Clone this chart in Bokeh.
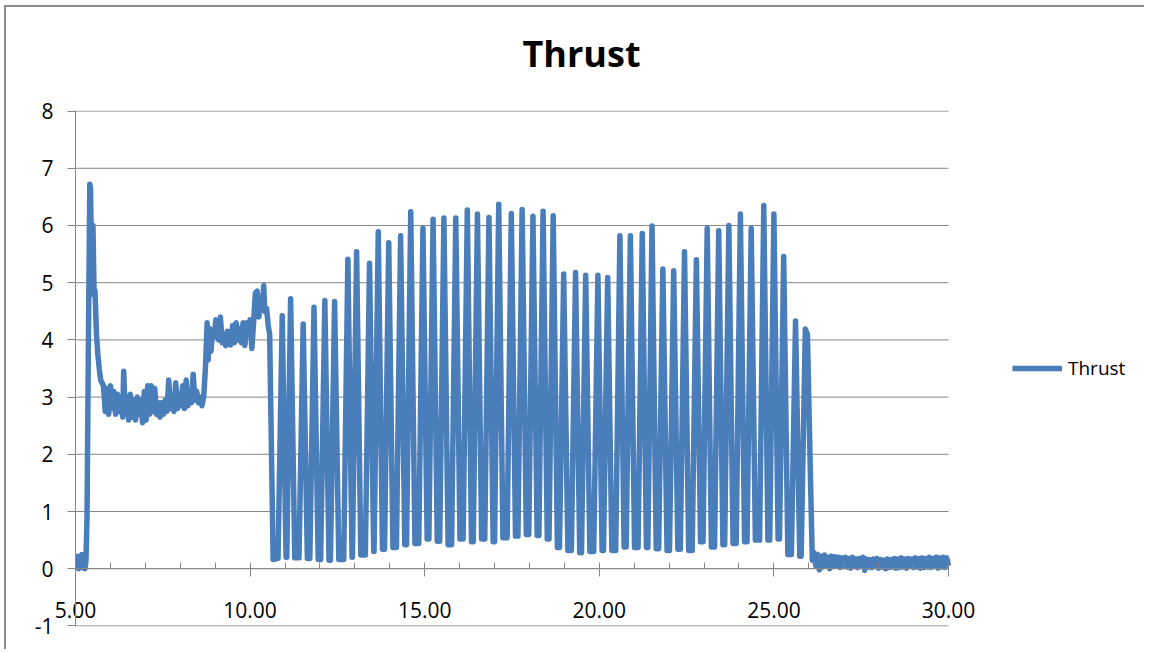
from bokeh.plotting import figure
from bokeh.models import (LinearAxis, Range1d, FixedTicker, Legend, LegendItem,
                          Title, PrintfTickFormatter, ColumnDataSource)
from bokeh.embed import file_html
from bokeh.resources import INLINE

# ---------------- data ----------------
# pre-ignition, ignition spike and decay
t_ignition = [5.00, 5.03, 5.06, 5.09, 5.12, 5.15, 5.18, 5.21, 5.24, 5.27, 5.30,
              5.33, 5.37, 5.41, 5.43, 5.46, 5.48, 5.50, 5.53, 5.56, 5.60, 5.64,
              5.68, 5.72, 5.76]
v_ignition = [0.15, 0.03, 0.22, 0.00, 0.20, 0.04, 0.25, 0.02, 0.22, 0.00, 0.15,
              0.90, 4.00, 6.72, 6.66, 5.30, 4.80, 6.00, 4.90, 4.85, 4.10, 3.75,
              3.50, 3.30, 3.25]

# low plateau (~3)
t_plateau = [5.80, 5.85, 5.90, 5.95, 6.00, 6.05, 6.10, 6.15, 6.20, 6.25, 6.30,
             6.35, 6.38, 6.42, 6.47, 6.52, 6.57, 6.62, 6.67, 6.72, 6.77, 6.82,
             6.87, 6.92, 6.97, 7.02, 7.07, 7.12, 7.17, 7.22, 7.27, 7.32, 7.37,
             7.42, 7.47, 7.52, 7.57, 7.62, 7.67, 7.72, 7.77, 7.82, 7.87, 7.92,
             7.97, 8.02, 8.07, 8.12, 8.17, 8.22, 8.27, 8.32, 8.37, 8.42, 8.47,
             8.52, 8.57, 8.62, 8.67]
v_plateau = [3.20, 2.75, 3.15, 2.70, 3.20, 2.80, 3.10, 2.70, 3.05, 2.75, 3.00,
             2.65, 3.45, 2.80, 3.00, 2.60, 3.05, 2.65, 2.95, 2.60, 3.00, 2.70,
             2.95, 2.55, 3.10, 2.60, 3.20, 2.70, 3.20, 2.75, 3.15, 2.70, 2.90,
             2.65, 2.90, 2.70, 2.95, 2.75, 3.30, 2.80, 3.00, 2.75, 3.25, 2.80,
             3.05, 2.85, 3.20, 2.80, 3.30, 2.85, 3.05, 2.90, 3.40, 2.95, 3.10,
             2.90, 3.00, 2.85, 3.00]

# step up to ~4
t_step = [8.72, 8.77, 8.80, 8.84, 8.88, 8.92, 8.97, 9.02, 9.06, 9.10, 9.15,
          9.20, 9.25, 9.30, 9.35, 9.40, 9.44, 9.50, 9.55, 9.60, 9.65, 9.70,
          9.75, 9.80, 9.85, 9.90, 9.95, 10.00, 10.05, 10.10, 10.15, 10.20,
          10.25, 10.30, 10.35, 10.39, 10.42, 10.47, 10.52, 10.56, 10.66]
v_step = [3.50, 4.30, 3.65, 4.20, 3.80, 4.10, 4.05, 4.35, 4.20, 4.00, 4.40,
          3.95, 4.10, 3.90, 4.15, 4.00, 3.91, 4.25, 3.95, 4.30, 4.00, 4.20,
          3.95, 4.30, 3.90, 4.30, 4.10, 4.35, 3.85, 4.30, 4.82, 4.85,
          4.40, 4.75, 4.60, 4.95, 4.50, 4.55, 4.25, 4.10, 0.16]

# oscillating phase: for each cycle, start of rise, peak, end of fall
t_osc = [10.80, 10.92, 11.03, 11.05, 11.16, 11.28, 11.40, 11.52, 11.64,
         11.71, 11.83, 11.95, 12.02, 12.14, 12.26, 12.30, 12.42, 12.54,
         12.68, 12.80, 12.92, 12.93, 13.05, 13.17, 13.30, 13.42, 13.54,
         13.55, 13.67, 13.79, 13.85, 13.97, 14.09, 14.19, 14.31, 14.43,
         14.48, 14.60, 14.72, 14.83, 14.95, 15.07, 15.12, 15.24, 15.36,
         15.43, 15.55, 15.67, 15.77, 15.89, 16.01, 16.10, 16.22, 16.34,
         16.39, 16.51, 16.63, 16.72, 16.84, 16.96, 17.00, 17.12, 17.24,
         17.36, 17.48, 17.60, 17.67, 17.79, 17.91, 17.98, 18.10, 18.22,
         18.27, 18.39, 18.51, 18.56, 18.68, 18.80, 18.86, 18.98, 19.10,
         19.20, 19.32, 19.44, 19.49, 19.61, 19.73, 19.84, 19.96, 20.08,
         20.12, 20.24, 20.36, 20.47, 20.59, 20.71, 20.77, 20.89, 21.01,
         21.11, 21.23, 21.35, 21.39, 21.51, 21.63, 21.70, 21.82, 21.94,
         22.01, 22.13, 22.25, 22.32, 22.44, 22.56, 22.66, 22.78, 22.90,
         22.97, 23.09, 23.21, 23.30, 23.42, 23.54, 23.59, 23.71, 23.83,
         23.92, 24.04, 24.16, 24.23, 24.35, 24.47, 24.59, 24.71, 24.83,
         24.88, 25.00, 25.12, 25.16, 25.28, 25.40, 25.50, 25.62, 25.74,
         25.78, 25.90, 25.96, 26.05, 26.10]
v_osc = [0.18, 4.42, 0.20, 0.20, 4.72, 0.19, 0.19, 4.28, 0.18,
         0.18, 4.57, 0.16, 0.16, 4.69, 0.15, 0.15, 4.67, 0.16,
         0.16, 5.41, 0.20, 0.20, 5.54, 0.24, 0.24, 5.34, 0.30,
         0.30, 5.89, 0.34, 0.34, 5.70, 0.37, 0.37, 5.82, 0.42,
         0.42, 6.24, 0.44, 0.44, 5.95, 0.52, 0.52, 6.11, 0.48,
         0.48, 6.13, 0.42, 0.42, 6.13, 0.52, 0.52, 6.27, 0.47,
         0.47, 6.20, 0.52, 0.52, 6.14, 0.47, 0.47, 6.37, 0.54,
         0.54, 6.21, 0.57, 0.57, 6.28, 0.60, 0.60, 6.16, 0.58,
         0.58, 6.25, 0.52, 0.52, 6.17, 0.37, 0.37, 5.15, 0.32,
         0.32, 5.18, 0.28, 0.28, 5.13, 0.30, 0.30, 5.13, 0.32,
         0.32, 5.09, 0.32, 0.32, 5.82, 0.38, 0.38, 5.82, 0.37,
         0.37, 5.86, 0.37, 0.37, 5.99, 0.35, 0.35, 5.24, 0.32,
         0.32, 5.21, 0.34, 0.34, 5.54, 0.32, 0.32, 5.40, 0.47,
         0.47, 5.95, 0.38, 0.38, 5.91, 0.42, 0.42, 6.00, 0.44,
         0.44, 6.20, 0.47, 0.47, 5.95, 0.50, 0.50, 6.35, 0.50,
         0.50, 6.20, 0.52, 0.52, 5.46, 0.25, 0.25, 4.33, 0.22,
         0.22, 4.19, 4.10, 1.50, 0.15]

# tail-off noise after burn-out
t_tail = [26.15, 26.20, 26.25, 26.30, 26.35, 26.40, 26.45, 26.50, 26.55, 26.60,
          26.65, 26.70, 26.75, 26.80, 26.85, 26.90, 26.95, 27.00, 27.05, 27.10,
          27.15, 27.20, 27.25, 27.30, 27.35, 27.40, 27.45, 27.50, 27.55, 27.60,
          27.65, 27.70, 27.75, 27.80, 27.85, 27.90, 27.95, 28.00, 28.05, 28.10,
          28.15, 28.20, 28.25, 28.30, 28.35, 28.40, 28.45, 28.50, 28.55, 28.60,
          28.65, 28.70, 28.75, 28.80, 28.85, 28.90, 28.95, 29.00, 29.05, 29.10,
          29.15, 29.20, 29.25, 29.30, 29.35, 29.40, 29.45, 29.50, 29.55, 29.60,
          29.65, 29.70, 29.75, 29.80, 29.85, 29.90, 29.95, 30.00]
v_tail = [0.28, 0.05, 0.25, -0.02, 0.22, 0.03, 0.24, 0.06, 0.20, 0.00,
          0.22, 0.04, 0.21, 0.05, 0.20, 0.02, 0.19, 0.04, 0.20, 0.03,
          0.18, 0.01, 0.20, 0.04, 0.17, 0.02, 0.18, 0.05, 0.20, -0.03,
          0.17, 0.03, 0.16, 0.02, 0.17, 0.04, 0.18, 0.01, 0.16, 0.03,
          0.15, 0.00, 0.17, 0.02, 0.16, 0.03, 0.18, 0.01, 0.17, 0.02,
          0.19, 0.03, 0.17, 0.01, 0.18, 0.04, 0.17, 0.02, 0.19, 0.03,
          0.18, 0.01, 0.19, 0.02, 0.18, 0.03, 0.20, 0.02, 0.18, 0.04,
          0.20, 0.01, 0.19, 0.03, 0.20, 0.02, 0.19, 0.05]

x_major_ticks = [5, 10, 15, 20, 25, 30]
x_minor_ticks = [6, 7, 8, 9, 11, 12, 13, 14, 16, 17, 18, 19,
                 21, 22, 23, 24, 26, 27, 28, 29]
y_ticks = [-1, 0, 1, 2, 3, 4, 5, 6, 7, 8]
series_name = "Thrust"
chart_title = "Thrust"

# ---------------- layout constants ----------------
W, H = 1140, 644
FRAME_L = 69          # canvas x of t = 5
X30_PX = 942          # canvas x of t = 30
X0, X1 = x_major_ticks[0], x_major_ticks[-1]
# the plot frame runs on to the right edge (legend lives there); the data axis stops at 30
x_end = X1 + (W - X30_PX) * (X1 - X0) / (X30_PX - FRAME_L)

time = t_ignition + t_plateau + t_step + t_osc + t_tail
thrust = v_ignition + v_plateau + v_step + v_osc + v_tail
src = ColumnDataSource(data=dict(t=time, thrust=thrust))

GRID = "#878787"
FONT = "Open Sans"

p = figure(width=W, height=H, x_range=Range1d(X0, x_end),
           y_range=Range1d(-1.01, 8.01),
           output_backend="svg", toolbar_location=None,
           x_axis_location=None, y_axis_location="left",
           min_border_left=FRAME_L, min_border_right=0,
           min_border_top=103, min_border_bottom=25)
p.outline_line_color = None
p.background_fill_color = "white"
p.border_fill_color = "white"
p.styles = {"margin-left": "4px", "margin-top": "5px",
            "border-top": "2px solid #8c8c8c", "border-left": "2px solid #8c8c8c"}

# y axis
yax = p.yaxis[0]
yax.ticker = FixedTicker(ticks=y_ticks)
yax.formatter = PrintfTickFormatter(format="%d")
yax.axis_line_color = GRID
yax.major_tick_line_color = GRID
yax.major_tick_out = 8
yax.major_tick_in = 0
yax.minor_tick_line_color = None
yax.major_label_standoff = 14
yax.major_label_text_font = FONT
yax.major_label_text_font_size = "21px"
yax.major_label_text_color = "#000000"

for g in p.ygrid:
    g.visible = False
for g in p.xgrid:
    g.visible = False

# horizontal gridlines, spanning the data axis only (5 .. 30)
p.segment(x0=[X0] * len(y_ticks), x1=[X1] * len(y_ticks), y0=y_ticks, y1=y_ticks,
          line_color=GRID, line_width=1)

# x axis line and ticks crossing at y = 0
xax = LinearAxis(fixed_location=0, bounds=(X0, X1),
                 ticker=FixedTicker(ticks=x_major_ticks, minor_ticks=x_minor_ticks),
                 formatter=PrintfTickFormatter(format="%.2f"))
xax.axis_line_color = GRID
xax.major_tick_line_color = GRID
xax.minor_tick_line_color = GRID
xax.major_tick_in = 6
xax.major_tick_out = 8
xax.minor_tick_in = 6
xax.minor_tick_out = 0
xax.major_label_text_color = None
xax.major_label_text_font_size = "1px"
p.add_layout(xax, "below")

# x tick labels (regular bottom axis, labels lifted to sit just under y = 0)
xlab = LinearAxis(ticker=FixedTicker(ticks=x_major_ticks),
                  formatter=PrintfTickFormatter(format="%.2f"))
xlab.axis_line_color = None
xlab.major_tick_line_color = None
xlab.minor_tick_line_color = None
xlab.major_tick_in = 0
xlab.major_tick_out = 0
xlab.major_label_standoff = -25
xlab.major_label_text_font = FONT
xlab.major_label_text_font_size = "21px"
xlab.major_label_text_color = "#000000"
p.add_layout(xlab, "below")

# invisible spacer between frame and title
spacer = LinearAxis(ticker=FixedTicker(ticks=[X0]))
spacer.axis_line_color = None
spacer.major_tick_line_color = None
spacer.minor_tick_line_color = None
spacer.major_tick_in = 0
spacer.major_tick_out = 28
spacer.major_label_standoff = 5
spacer.major_label_text_font_size = "10px"
spacer.major_label_text_color = None
p.add_layout(spacer, "above")

r = p.line("t", "thrust", source=src, line_color="#4a7ebb", line_width=5.5,
           line_join="round")

p.title = Title(text=chart_title, align="left", text_font=FONT,
                text_font_size="36px", text_font_style="bold",
                text_color="#000000", offset=447, standoff=10)

legend = Legend(items=[LegendItem(label=series_name, renderers=[r])],
                location=(937, 245), padding=0, margin=0,
                glyph_width=50, glyph_height=20, label_standoff=6,
                label_text_font=FONT, label_text_font_size="19px",
                label_text_color="#000000",
                border_line_color=None, background_fill_alpha=0)
p.add_layout(legend)

open("out.html", "w").write(file_html(p, INLINE))
